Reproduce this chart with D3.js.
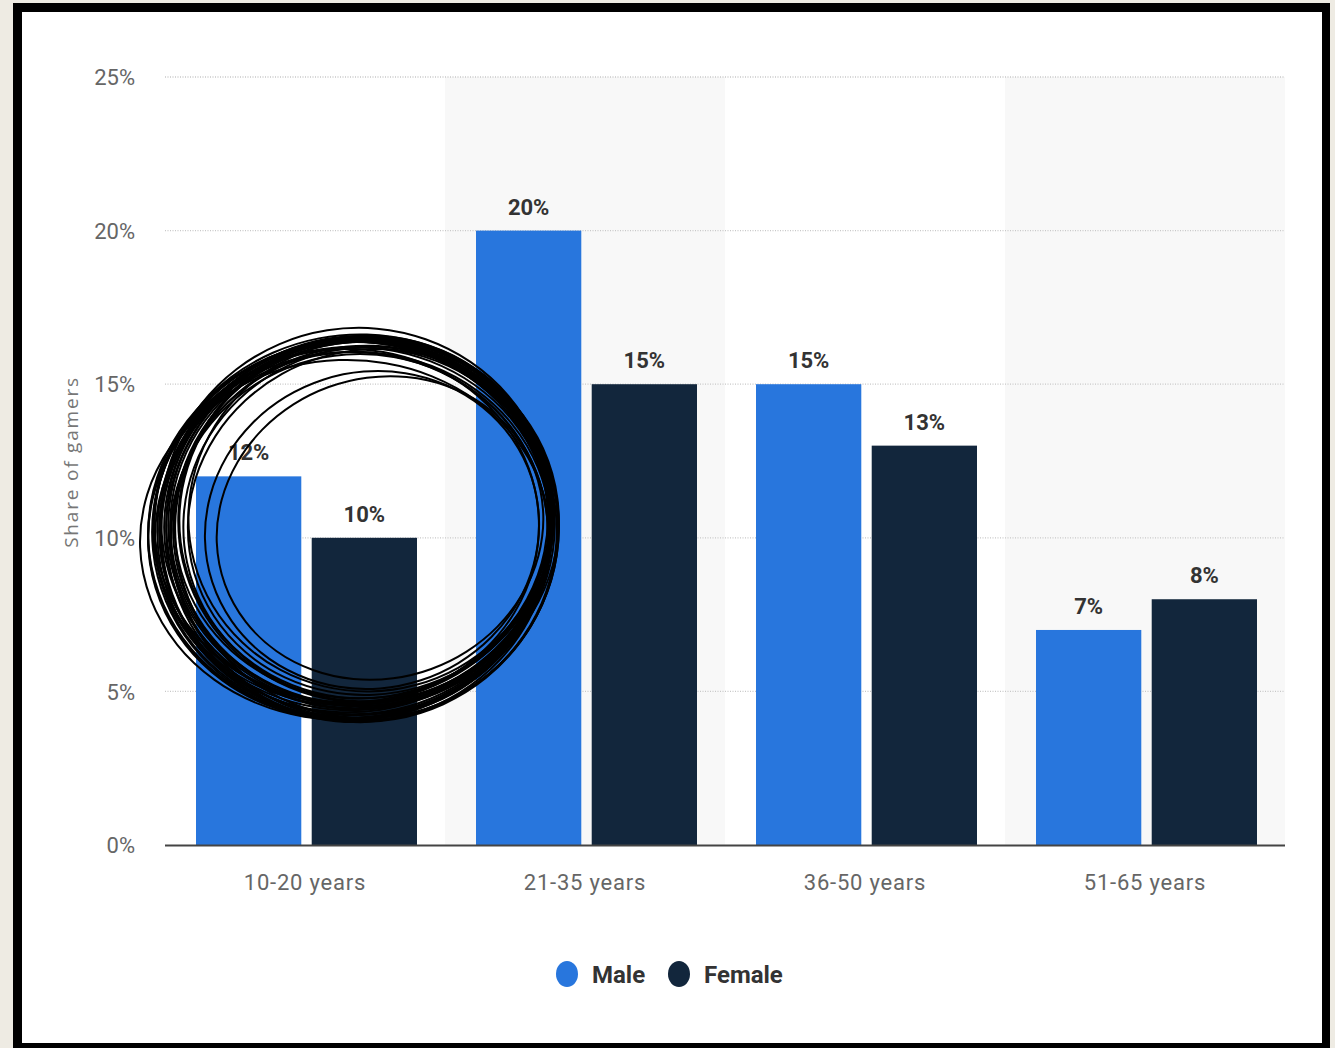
<!DOCTYPE html>
<html>
<head>
<meta charset="utf-8">
<script src="https://cdn.jsdelivr.net/npm/d3@7"></script>
<style>
  html, body { margin: 0; padding: 0; background: #eeebe3; }
  svg { display: block; }
</style>
</head>
<body>
<script>
// Age groups and shares of gamers by gender
const categories = ["10-20 years", "21-35 years", "36-50 years", "51-65 years"];
const seriesNames = ["Male", "Female"];
const maleValues = [12, 20, 15, 7];
const femaleValues = [10, 15, 13, 8];
const tickValues = [0, 5, 10, 15, 20, 25];
const seriesColors = ["#2876dd", "#12263c"];

// Hand-drawn loops circled around the first age group: [cx, cy, rx, ry, tilt°]
const loops = [
  [357, 527, 198, 188, -8], [360, 522, 192, 182, -10], [352, 530, 200, 190, -6],
  [362, 520, 188, 178, -12], [355, 528, 196, 186, -9], [350, 533, 202, 186, -5],
  [365, 518, 186, 180, -14], [358, 525, 194, 184, -7], [348, 536, 200, 184, -4],
  [370, 515, 182, 176, -15], [354, 529, 197, 189, -11], [361, 523, 191, 181, -8],
  [356, 532, 195, 190, -3], [366, 519, 188, 183, -13], [352, 526, 199, 186, -9],
  [372, 530, 168, 158, -18], [380, 528, 165, 150, -20], [345, 540, 205, 180, -2],
  [359, 521, 193, 185, -10], [363, 527, 190, 179, -6], [349, 530, 201, 188, -7],
  [368, 524, 185, 177, -12], [357, 518, 196, 190, -9], [353, 535, 198, 183, -5],
  [362, 530, 196, 192, -10], [356, 524, 203, 186, -7], [364, 533, 193, 187, -12],
  [351, 521, 197, 181, -6], [367, 528, 192, 190, -14], [359, 536, 189, 182, -4],
  [354, 519, 200, 184, -11], [360, 529, 199, 192, -8], [346, 527, 193, 178, -3],
  [371, 522, 184, 172, -16]
];

const W = 1335, H = 1048;
const svg = d3.select("body").append("svg").attr("width", W).attr("height", H);

// Framed white card
svg.append("rect").attr("x", 13).attr("y", 3).attr("width", 1317).attr("height", 1050).attr("fill", "#000");
svg.append("rect").attr("x", 22).attr("y", 12).attr("width", 1300).attr("height", 1031).attr("fill", "#fff");

const plot = { left: 165, right: 1285, top: 77, bottom: 845 };

const x0 = d3.scaleBand().domain(categories).range([plot.left, plot.right]).paddingInner(0).paddingOuter(0);
const x1 = d3.scaleBand().domain(seriesNames).range([31, x0.bandwidth() - 28]).paddingInner(0.09);
const y = d3.scaleLinear().domain([0, 25]).range([plot.bottom, plot.top]);

const font = "'Roboto', sans-serif";

// Alternating column shading
svg.append("g").selectAll("rect")
  .data(categories.filter((d, i) => i % 2 === 1))
  .join("rect")
  .attr("x", d => x0(d)).attr("y", plot.top)
  .attr("width", x0.bandwidth()).attr("height", plot.bottom - plot.top)
  .attr("fill", "#f8f8f8");

// Dotted gridlines
svg.append("g").selectAll("line")
  .data(tickValues.filter(v => v > 0))
  .join("line")
  .attr("x1", plot.left).attr("x2", plot.right)
  .attr("y1", d => y(d)).attr("y2", d => y(d))
  .attr("stroke", "#c8c8c8").attr("stroke-width", 1.3).attr("stroke-dasharray", "1,1.5");

// Y axis labels
const yAxis = svg.append("g")
  .attr("transform", `translate(${plot.left - 27},0)`)
  .call(d3.axisLeft(y).tickValues(tickValues).tickFormat(d => d + "%").tickSize(0));
yAxis.select(".domain").remove();
yAxis.selectAll("text")
  .attr("font-family", font).attr("font-size", 22).attr("fill", "#666").attr("dy", "0.35em");

// Y axis title
svg.append("text")
  .attr("transform", `translate(78,${(plot.top + plot.bottom) / 2 + 1}) rotate(-90)`)
  .attr("text-anchor", "middle")
  .attr("font-family", "'Open Sans', sans-serif").attr("font-size", 19).attr("letter-spacing", 1.8)
  .attr("fill", "#777")
  .text("Share of gamers");

// Bars
const rows = categories.map((c, i) => ({ cat: c, vals: [maleValues[i], femaleValues[i]] }));
const groups = svg.append("g").selectAll("g")
  .data(rows).join("g")
  .attr("transform", d => `translate(${x0(d.cat)},0)`);

groups.selectAll("rect")
  .data(d => d.vals.map((v, j) => ({ name: seriesNames[j], v, j })))
  .join("rect")
  .attr("x", d => x1(d.name)).attr("y", d => y(d.v))
  .attr("width", x1.bandwidth()).attr("height", d => y(0) - y(d.v))
  .attr("fill", d => seriesColors[d.j]);

groups.selectAll("text")
  .data(d => d.vals.map((v, j) => ({ name: seriesNames[j], v, j })))
  .join("text")
  .attr("x", d => x1(d.name) + x1.bandwidth() / 2).attr("y", d => y(d.v) - 16)
  .attr("text-anchor", "middle")
  .attr("font-family", font).attr("font-weight", "bold").attr("font-size", 22).attr("fill", "#333")
  .text(d => d.v + "%");

// Baseline and category labels
svg.append("line")
  .attr("x1", plot.left).attr("x2", plot.right)
  .attr("y1", plot.bottom + 0.5).attr("y2", plot.bottom + 0.5)
  .attr("stroke", "#444").attr("stroke-width", 2);

const xAxis = svg.append("g")
  .attr("transform", `translate(0,${plot.bottom})`)
  .call(d3.axisBottom(x0).tickSize(0));
xAxis.select(".domain").remove();
xAxis.selectAll("text")
  .attr("font-family", font).attr("font-size", 22).attr("letter-spacing", 0.8)
  .attr("fill", "#666").attr("dy", 0).attr("y", 45);

// Legend
const legend = svg.append("g");
const legendItems = [{ name: "Male", x: 567 }, { name: "Female", x: 679 }];
legendItems.forEach((d, i) => {
  legend.append("ellipse").attr("cx", d.x).attr("cy", 974).attr("rx", 11).attr("ry", 13).attr("fill", seriesColors[i]);
  legend.append("text").attr("x", d.x + 25).attr("y", 983)
    .attr("font-family", font).attr("font-weight", "bold").attr("font-size", 24).attr("fill", "#333")
    .text(d.name);
});

// Pen scribble circling the first group
const loopLine = d3.lineRadial().curve(d3.curveCardinalClosed);
const scribble = svg.append("g").attr("fill", "none").attr("stroke", "#000").attr("stroke-width", 2);
loops.forEach(([cx, cy, rx, ry, tilt]) => {
  const pts = d3.range(0, 24).map(i => {
    const a = i / 24 * 2 * Math.PI;
    const r = (rx * ry) / Math.sqrt((ry * Math.sin(a)) ** 2 + (rx * Math.cos(a)) ** 2);
    return [a, r];
  });
  scribble.append("path")
    .attr("d", loopLine(pts))
    .attr("transform", `translate(${cx},${cy}) rotate(${tilt})`);
});
</script>
</body>
</html>
